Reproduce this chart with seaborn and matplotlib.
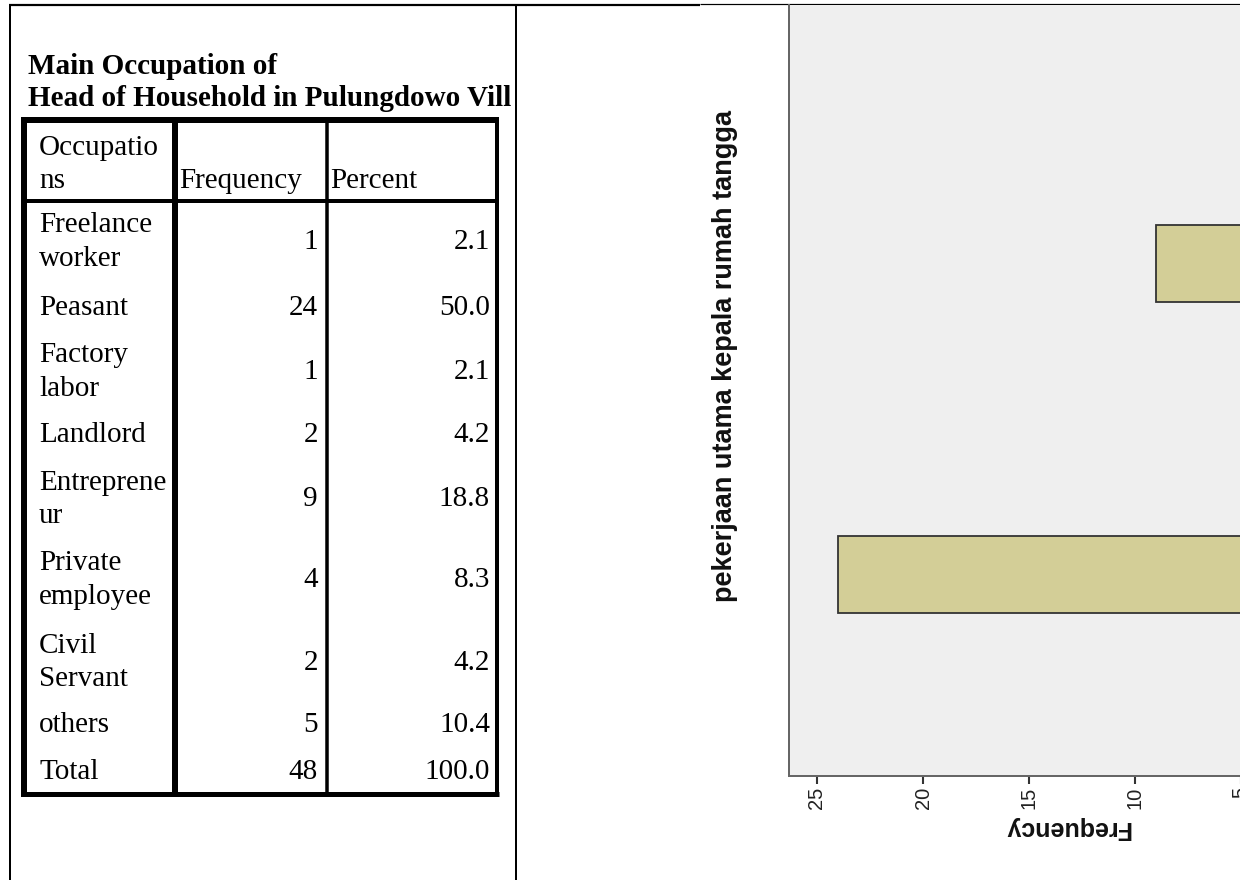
import textwrap

import numpy as np
import pandas as pd
import seaborn as sns
import matplotlib.pyplot as plt
from matplotlib.transforms import Bbox


# frequency table of the head of household's main occupation
occupations = ["Freelance worker", "Peasant", "Factory labor", "Landlord",
               "Entrepreneur", "Private employee", "Civil Servant", "others"]
frequency = [1, 24, 1, 2, 9, 4, 2, 5]
percent = [2.1, 50.0, 2.1, 4.2, 18.8, 8.3, 4.2, 10.4]
total_label = "Total"
total_freq = 48
total_pct = 100.0

title_lines = ["Main Occupation of", "Head of Household in Pulungdowo Vill"]
header = ["Occupatio\nns", "Frequency", "Percent"]

# spss chart pasted next to the table
chart_ylabel = "pekerjaan utama kepala rumah tangga"
chart_xlabel = "Frequency"
freq_ticks = [25, 20, 15, 10, 5]

serif = "Liberation Serif"
sans = "Liberation Sans"
px = 0.72  # one pixel in points at dpi 100

fig = plt.figure(figsize=(12.4, 8.8), dpi=100)

# full-figure axes in pixel units for the table and the frame lines
canvas = fig.add_axes([0, 0, 1, 1])
canvas.set_xlim(0, 1240)
canvas.set_ylim(880, 0)
canvas.axis("off")


def line(x, y, w, color="black"):
    canvas.plot(x, y, color=color, lw=w * px, solid_capstyle="butt")


# outer frame of the two cells
line([10, 10], [4, 880], 2)
line([516, 516], [4, 880], 2)
line([9, 700], [5, 5], 2.2)
line([700, 1240], [4.5, 4.5], 1.2)

# title (cut off by the cell border)
clip = Bbox.from_extents(0, 0, 515, 880)
for i, txt in enumerate(title_lines):
    t = canvas.text(28, 74 + 32 * i, txt, family=serif, fontsize=21,
                    fontweight="bold", va="baseline", ha="left", clip_on=True)
    t.set_clip_box(clip)

# table grid
line([24, 24], [117, 797], 6)
line([21, 499], [120, 120], 6)
line([496.5, 496.5], [117, 797], 4)
line([21, 499], [794.5, 794.5], 5)
line([174.5, 174.5], [117, 797], 6)
line([326.7, 326.7], [117, 797], 3.5)
line([21, 499], [201, 201], 4)

label_x, freq_x, pct_x = 39, 318, 490
gap = 33
fs = 21


def cell_lines(x, base, txt, ha):
    parts = txt.split("\n")
    n = len(parts)
    for i, p in enumerate(parts):
        y = base + (i - (n - 1) / 2) * gap
        canvas.text(x, y, p, family=serif, fontsize=fs, ha=ha, va="baseline")


# header row
cell_lines(label_x, 171.5, header[0], "left")
canvas.text(179, 188, header[1], family=serif, fontsize=fs, va="baseline")
canvas.text(330, 188, header[2], family=serif, fontsize=fs, va="baseline")

row_base = [249, 315, 379, 442.5, 506.5, 587, 669.5, 732]
for occ, f, p, y in zip(occupations, frequency, percent, row_base):
    cell_lines(label_x, y, "\n".join(textwrap.wrap(occ, 10)), "left")
    cell_lines(freq_x, y, str(f), "right")
    cell_lines(pct_x, y, f"{p:.1f}", "right")

cell_lines(label_x, 779, total_label, "left")
cell_lines(freq_x, 779, str(total_freq), "right")
cell_lines(pct_x, 779, f"{total_pct:.1f}", "right")

# bar chart (rotated spss output, only partly visible)
df = pd.DataFrame({"occupation": occupations, "frequency": frequency})
ax = fig.add_axes([789 / 1240, (880 - 776) / 880, (1250 - 789) / 1240, (776 - 5) / 880])
sns.barplot(data=df, x="frequency", y="occupation", order=occupations, orient="h",
            color="#d3ce97", saturation=1, edgecolor="#333333", linewidth=1.3,
            width=0.74, ax=ax)
ax.set_facecolor("#efefef")
ax.set_ylim(-0.945, 6.49)
ax.set_xlim(26.32, 4.58)
ax.set_yticks([])
ax.set_xticks(freq_ticks)
ax.set_xticklabels([str(v) for v in freq_ticks], rotation=90, fontsize=14.5,
                   family=sans, color="#222222", va="top", ha="center")
ax.tick_params(axis="x", length=6, width=1.5, color="#333333", pad=1.5)
for side in ["top", "right"]:
    ax.spines[side].set_visible(False)
for side in ["left", "bottom"]:
    ax.spines[side].set_color("#666666")
    ax.spines[side].set_linewidth(2 * px)

ax.set_ylabel(chart_ylabel, family=sans, fontsize=19.5, fontweight="bold",
              color="#111111", rotation=90, va="center", ha="center")
ax.yaxis.set_label_coords((725 - 789) / 461, (776 - 356) / 771)
ax.set_xlabel(chart_xlabel, family=sans, fontsize=18, fontweight="bold",
              color="#111111", rotation=180, va="center", ha="center")
ax.xaxis.set_label_coords((1067.5 - 789) / 461, -(828 - 776) / 771)

fig.savefig("out.png", dpi=100)
